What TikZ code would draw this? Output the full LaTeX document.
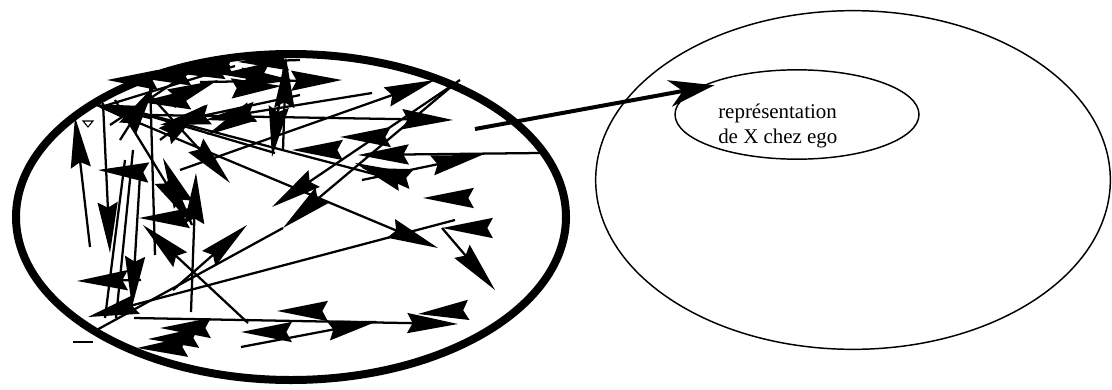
\documentclass[tikz,border=0pt]{standalone}
\usepackage{fontspec}
\setmainfont{Liberation Serif}
\usetikzlibrary{arrows.meta,shapes.geometric}
\tikzset{
  link/.style={line width=1.7pt,-{Stealth[length=38pt,width=15pt,inset=4pt]}},
  strand/.style={line width=1.7pt},
  ring/.style={ellipse,draw,inner sep=0pt,outer sep=0pt},
  label/.style={anchor=base west,inner sep=0pt,font=\fontsize{15.7}{19}\selectfont},
}
\begin{document}
\begin{tikzpicture}[x=0.75pt,y=-0.75pt]
\useasboundingbox (0,0) rectangle (1112,389);
% the three ellipses
\node[ring,line width=6pt,minimum width=412.5pt,minimum height=244.5pt] (crowd) at (291,217) {};
\node[ring,line width=1.1pt,minimum width=386pt,minimum height=254pt] (ego) at (853,180) {};
\node[ring,line width=1.1pt,minimum width=183pt,minimum height=67pt] (repr) at (797,114.5) {};
\node[label] (reprA) at (718,118) {représentation};
\node[label] (reprB) at (718,143) {de X chez ego};
\coordinate (src) at (475,129);
\draw[line width=3pt,-{Stealth[length=34pt,width=20pt,inset=10pt]},shorten >=-12pt] (src) -- (repr.165);
% long strands
\draw[link] (101,107) -- (438,248);
\draw[link] (455,220) -- (88,317);
\draw[link] (173,290) -- (247,225);
\draw[link] (460,80) -- (272,207);
\draw[link] (452,86) -- (283,228);
\draw[strand] (283,228) -- (93,332);
\draw[strand] (73,342) -- (93,342);
\draw[link] (134,318) -- (458,324);
\draw[link] (241,347) -- (378,321);
\draw[link] (90,247) -- (75,117);
\draw[link] (191,312) -- (196,173);
\draw[link] (248,323) -- (143,225);
\draw[link] (150,115) -- (453,120);
\draw[link] (180,170) -- (435,80);
\draw[link] (372,93) -- (205,120);
\draw[link] (300,95) -- (160,125);
\draw[link] (540,153) -- (358,155);
\draw[link] (362,180) -- (482,155);
\draw[strand] (119,107) -- (404,182);
\draw[strand] (119,107) -- (275,153);
\draw[link] (404,182) -- (355,163);
\draw[link] (398,176) -- (362,168);
\draw[link] (480,228) -- (442,228);
\draw[link] (442,228) -- (495,290);
% short heads
\draw[link] (455,311) -- (418,314);
\draw[link] (278,332) -- (241,332);
\draw[link] (314,311) -- (277,311);
\draw[link] (197,328) -- (160,328);
\draw[link] (187,338) -- (148,339);
\draw[link] (177,347) -- (137,348);
\draw[link] (176,218) -- (139,218);
\draw[link] (460,198) -- (423,198);
\draw[link] (330,150) -- (292,150);
\draw[link] (377,137) -- (340,137);
\draw[link] (141,280) -- (77,281);
% left uprights
\draw[link] (103,103) -- (110,253);
\draw[link] (140,175) -- (132,307);
\draw[strand] (125,160) -- (105,318);
\draw[strand] (133,150) -- (116,318);
\draw[strand] (150,80) -- (155,255);
\draw[link] (283,150) -- (286,57);
\draw[link] (285,60) -- (272,157);
\draw[link] (150,95) -- (230,183);
\draw[link] (115,100) -- (190,222);
\draw[link] (192,225) -- (163,158);
\draw[link] (138,172) -- (98,170);
% top band
\draw[link] (200,82) -- (342,80);
\draw[link] (300,60) -- (238,62);
\draw[link] (256,73) -- (219,74);
\draw[link] (230,66) -- (183,68);
\draw[link] (212,70) -- (174,73);
\draw[link] (180,76) -- (140,78);
\draw[link] (150,80) -- (107,80);
\draw[link] (178,100) -- (140,102);
\draw[link] (150,118) -- (92,104);
\draw[link] (178,96) -- (218,80);
\draw[link] (160,140) -- (205,105);
\draw[link] (245,115) -- (207,135);
\draw[link] (250,78) -- (292,80);
\draw[link] (240,88) -- (282,86);
\draw[link] (120,140) -- (155,85);
\draw[strand] (110,125) -- (205,62);
\draw[strand] (101,107) -- (235,66);
\draw[line width=0.8pt] (83,121) -- (93,121) -- (88,127) -- cycle;
\end{tikzpicture}
\end{document}
